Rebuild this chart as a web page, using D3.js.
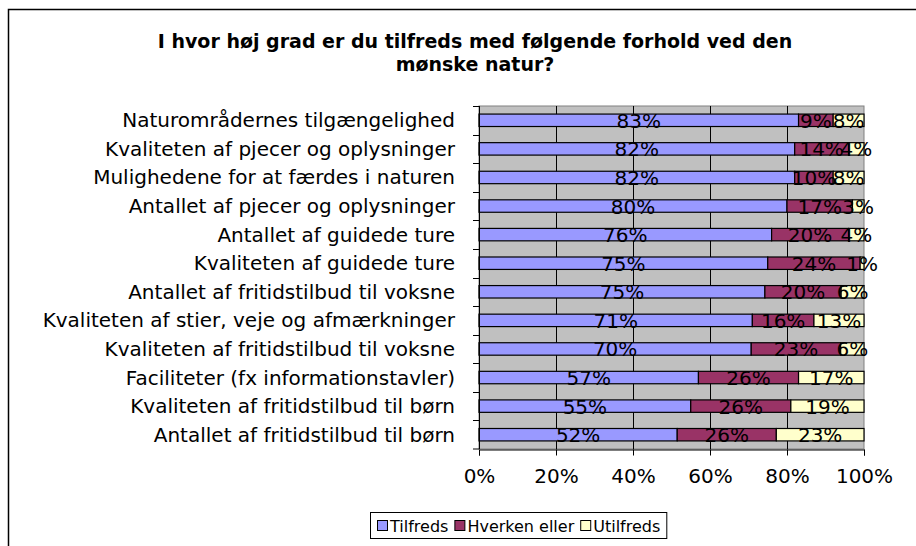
<!DOCTYPE html>
<html>
<head>
<meta charset="utf-8">
<script src="https://cdn.jsdelivr.net/npm/d3@7"></script>
<style>
  body { margin: 0; background: #fff; }
  text { font-family: "DejaVu Sans", Verdana, sans-serif; fill: #000; }
</style>
</head>
<body>
<div id="chart"></div>
<script>
var categories = [
    "Naturområdernes tilgængelighed",
    "Kvaliteten af pjecer og oplysninger",
    "Mulighedene for at færdes i naturen",
    "Antallet af pjecer og oplysninger",
    "Antallet af guidede ture",
    "Kvaliteten af guidede ture",
    "Antallet af fritidstilbud til voksne",
    "Kvaliteten af stier, veje og afmærkninger",
    "Kvaliteten af fritidstilbud til voksne",
    "Faciliteter (fx informationstavler)",
    "Kvaliteten af fritidstilbud til børn",
    "Antallet af fritidstilbud til børn"
];
var seriesNames = ["Tilfreds", "Hverken eller", "Utilfreds"];
var tilfreds = [83, 82, 82, 80, 76, 75, 75, 71, 70, 57, 55, 52];
var hverken = [9, 14, 10, 17, 20, 24, 20, 16, 23, 26, 26, 26];
var utilfreds = [8, 4, 8, 3, 4, 1, 6, 13, 6, 17, 19, 23];
var xTicks = [0, 0.2, 0.4, 0.6, 0.8, 1];

function drawChart() {
    var width = 916;
    var height = 546;
    var color = ["#9999ff", "#993366", "#ffffcc"];

    var rows = categories.map(function(c, i) {
        return { cat: c, "Tilfreds": tilfreds[i], "Hverken eller": hverken[i], "Utilfreds": utilfreds[i] };
    });

    var svg = d3.select("#chart").append("svg")
        .attr("width", width)
        .attr("height", height);

    svg.append("rect")
        .attr("width", width).attr("height", height)
        .attr("fill", "#fff");

    // ydre ramme (fortsætter ud over billedet)
    svg.append("rect")
        .attr("x", 8.5).attr("y", 9.5)
        .attr("width", 1000).attr("height", 700)
        .attr("fill", "none")
        .attr("stroke", "#000")
        .attr("stroke-width", 1.5);

    // titel
    var title = svg.append("text")
        .attr("text-anchor", "middle")
        .style("font-weight", "bold")
        .style("font-size", "19px");
    title.append("tspan").attr("x", 475).attr("y", 48)
        .text("I hvor høj grad er du tilfreds med følgende forhold ved den");
    title.append("tspan").attr("x", 475).attr("y", 71)
        .text("mønske natur?");

    var pLeft = 479, pRight = 864, pTop = 106, pBottom = 449;

    var xScale = d3.scaleLinear().domain([0, 1]).range([pLeft, pRight]);
    var slot = d3.scaleBand().domain(categories).range([pTop, pBottom]);
    var yScale = d3.scaleBand().domain(categories).range([pTop, pBottom])
        .paddingInner(0.565).paddingOuter(0.2825);

    // plotområde
    svg.append("rect")
        .attr("x", pLeft).attr("y", pTop)
        .attr("width", pRight - pLeft).attr("height", pBottom - pTop)
        .attr("fill", "#c0c0c0")
        .attr("stroke", "#808080");

    svg.selectAll(".grid")
        .data(xTicks.slice(1, -1))
        .enter().append("line")
        .attr("x1", function(d) { return Math.round(xScale(d)) + 0.5; })
        .attr("x2", function(d) { return Math.round(xScale(d)) + 0.5; })
        .attr("y1", pTop).attr("y2", pBottom)
        .attr("stroke", "#000");

    // stablede søjler (100%)
    var stack = d3.stack().keys(seriesNames).offset(d3.stackOffsetExpand);
    var layers = stack(rows);

    var layer = svg.selectAll(".layer")
        .data(layers)
        .enter().append("g")
        .attr("fill", function(d, i) { return color[i]; });

    layer.selectAll("rect")
        .data(function(d) { return d; })
        .enter().append("rect")
        .attr("x", function(d) { return xScale(d[0]); })
        .attr("y", function(d) { return yScale(d.data.cat); })
        .attr("width", function(d) { return xScale(d[1]) - xScale(d[0]); })
        .attr("height", yScale.bandwidth())
        .attr("stroke", "#000")
        .attr("stroke-width", 1.2);

    // dataetiketter
    layers.forEach(function(ly) {
        svg.append("g").selectAll("text")
            .data(ly)
            .enter().append("text")
            .attr("x", function(d) { return (xScale(d[0]) + xScale(d[1])) / 2; })
            .attr("y", function(d) { return yScale(d.data.cat) + yScale.bandwidth() / 2 + 7.5; })
            .attr("text-anchor", "middle")
            .style("font-size", "20px")
            .text(function(d) { return d.data[ly.key] + "%"; });
    });

    // y-akse
    svg.append("line")
        .attr("x1", pLeft + 0.5).attr("x2", pLeft + 0.5)
        .attr("y1", pTop).attr("y2", pBottom)
        .attr("stroke", "#000");
    svg.append("g").selectAll("line")
        .data(categories.concat([null]))
        .enter().append("line")
        .attr("x1", pLeft - 6).attr("x2", pLeft)
        .attr("y1", function(d) { return d === null ? pBottom : Math.round(slot(d)) + 0.5; })
        .attr("y2", function(d) { return d === null ? pBottom : Math.round(slot(d)) + 0.5; })
        .attr("stroke", "#000");

    svg.append("g").selectAll("text")
        .data(categories)
        .enter().append("text")
        .attr("x", 455)
        .attr("y", function(d) { return slot(d) + slot.bandwidth() / 2 + 7; })
        .attr("text-anchor", "end")
        .style("font-size", "20px")
        .text(function(d) { return d; });

    // x-akse
    var xAxis = d3.axisBottom(xScale)
        .tickValues(xTicks)
        .tickSize(6)
        .tickPadding(13)
        .tickFormat(d3.format(".0%"));
    var gx = svg.append("g")
        .attr("transform", "translate(0," + (pBottom + 0.5) + ")")
        .call(xAxis);
    gx.select(".domain").attr("stroke", "#000");
    gx.selectAll("line").attr("stroke", "#000");
    gx.selectAll("text")
        .style("font-family", "DejaVu Sans, Verdana, sans-serif")
        .style("font-size", "20px")
        .attr("fill", "#000");

    // forklaring
    var legend = svg.append("g");
    var box = legend.append("rect")
        .attr("y", 512.5)
        .attr("height", 26)
        .attr("fill", "#fff")
        .attr("stroke", "#000");
    var lx = 377;
    seriesNames.forEach(function(s, i) {
        legend.append("rect")
            .attr("x", lx + 0.5).attr("y", 520.5)
            .attr("width", 10).attr("height", 10)
            .attr("fill", color[i])
            .attr("stroke", "#000");
        var t = legend.append("text")
            .attr("x", lx + 13).attr("y", 532)
            .style("font-size", "16px")
            .text(s);
        lx += 13 + t.node().getComputedTextLength() + 6;
    });
    box.attr("x", 370.5).attr("width", lx - 370);
}

drawChart();
</script>
</body>
</html>
